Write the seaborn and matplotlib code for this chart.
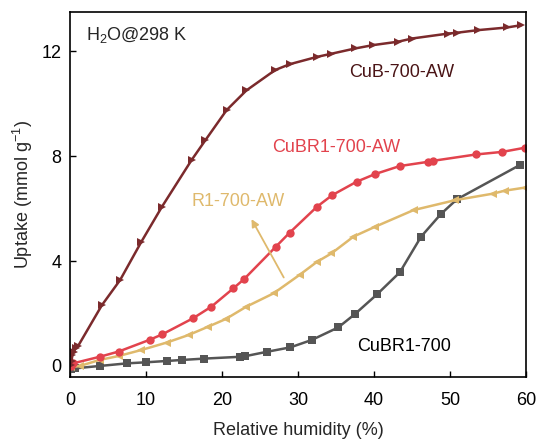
import matplotlib
matplotlib.use("Agg")
import matplotlib.pyplot as plt
import seaborn as sns
import pandas as pd

# CuB-700-AW
cub_x = [0.1, 0.2, 0.3, 0.5, 0.8, 1.1, 4.2, 6.6, 9.4, 12.1, 16.0, 17.8, 20.6, 23.2, 27.0, 28.9,
         32.5, 34.4, 37.5, 39.9, 43.2, 45.0, 49.8, 50.9, 53.7, 57.5, 59.4]
cub_y = [0.05, 0.2, 0.4, 0.55, 0.7, 0.78, 2.32, 3.28, 4.74, 6.07, 7.85, 8.6, 9.75, 10.5, 11.28, 11.5,
         11.78, 11.9, 12.1, 12.23, 12.36, 12.48, 12.67, 12.7, 12.8, 12.9, 12.99]

# CuBR1-700-AW
cubr_aw_x = [0.1, 0.4, 3.9, 6.4, 10.5, 12.1, 16.2, 18.6, 21.5, 22.9, 27.1, 28.9, 32.5, 34.5, 37.7,
             40.1, 43.4, 47.1, 47.8, 53.4, 56.9, 59.9]
cubr_aw_y = [0.0, 0.1, 0.35, 0.55, 1.0, 1.2, 1.82, 2.26, 2.96, 3.31, 4.55, 5.08, 6.07, 6.51, 7.02,
             7.31, 7.62, 7.78, 7.82, 8.06, 8.16, 8.32]

# R1-700-AW
r1_x = [0.1, 1.3, 3.9, 6.4, 9.4, 12.7, 15.6, 18.2, 20.5, 23.2, 26.8, 30.2, 32.5, 34.4, 37.3,
        40.1, 45.2, 50.7, 55.7, 57.2, 59.9]
r1_y = [-0.05, 0.0, 0.23, 0.38, 0.61, 0.89, 1.18, 1.5, 1.79, 2.26, 2.77, 3.47, 3.97, 4.29, 4.93,
        5.3, 5.94, 6.32, 6.57, 6.68, 6.8]

# CuBR1-700
cubr_x = [0.1, 0.7, 3.9, 7.5, 10.0, 12.7, 14.8, 17.6, 22.4, 23.0, 25.9, 29.0, 31.8, 35.3, 37.5,
          40.4, 43.4, 46.2, 48.8, 50.9, 59.2]
cubr_y = [-0.1, -0.09, 0.0, 0.1, 0.14, 0.19, 0.23, 0.28, 0.35, 0.37, 0.54, 0.71, 0.99, 1.47, 1.98,
          2.73, 3.57, 4.93, 5.79, 6.35, 7.66]

c_cub = "#7b2a2c"
c_cubr_aw = "#e2434d"
c_r1 = "#dfb96c"
c_cubr = "#555555"

sns.set_theme(style="ticks")
plt.rcParams['font.family'] = ['Liberation Sans', 'DejaVu Sans']
plt.rcParams['mathtext.fontset'] = 'custom'
plt.rcParams['mathtext.rm'] = 'Liberation Sans'
plt.rcParams['mathtext.it'] = 'Liberation Sans:italic'

fig = plt.figure(figsize=(5.37, 4.4), dpi=100)
ax = fig.add_axes([0.1304, 0.1432, 0.8491, 0.8295])

series = [
    (cubr_x, cubr_y, c_cubr, "s"),
    (r1_x, r1_y, c_r1, "<"),
    (cubr_aw_x, cubr_aw_y, c_cubr_aw, "o"),
    (cub_x, cub_y, c_cub, ">"),
]
for xs, ys, col, mk in series:
    df = pd.DataFrame({"x": xs, "y": ys})
    sns.lineplot(data=df, x="x", y="y", ax=ax, color=col, marker=mk, markersize=6,
                 markeredgewidth=0, linewidth=1.8, sort=False, estimator=None, clip_on=True)

fs = 13
ax.set_xlim(0, 60)
ax.set_ylim(-0.42, 13.49)
ax.set_xticks([0, 10, 20, 30, 40, 50, 60])
ax.set_yticks([0, 4, 8, 12])
ax.tick_params(direction="in", length=4, width=1, labelsize=fs, colors="black")
ax.tick_params(axis="x", pad=11)
ax.tick_params(axis="y", pad=6)
for s in ax.spines.values():
    s.set_linewidth(1.2)
    s.set_color("black")
ax.set_xlabel("Relative humidity (%)", fontsize=fs, labelpad=9)
ax.set_ylabel("Uptake (mmol g$^{-1}$)", fontsize=fs, labelpad=5)

ax.text(0.035, 0.965, "H$_2$O@298 K", transform=ax.transAxes, fontsize=fs, ha="left", va="top")
ax.text(43.6, 11.2, "CuB-700-AW", color="#4a1416", fontsize=fs, ha="center", va="center")
ax.text(35.0, 8.34, "CuBR1-700-AW", color=c_cubr_aw, fontsize=fs, ha="center", va="center")
ax.text(22.1, 6.25, "R1-700-AW", color=c_r1, fontsize=fs, ha="center", va="center")
ax.text(43.9, 0.76, "CuBR1-700", color="black", fontsize=fs, ha="center", va="center")
ax.annotate("", xy=(23.7, 5.69), xytext=(28.3, 3.28),
            arrowprops=dict(arrowstyle="-|>", color=c_r1, lw=1.3, mutation_scale=11))

fig.savefig("out.png", dpi=100)
